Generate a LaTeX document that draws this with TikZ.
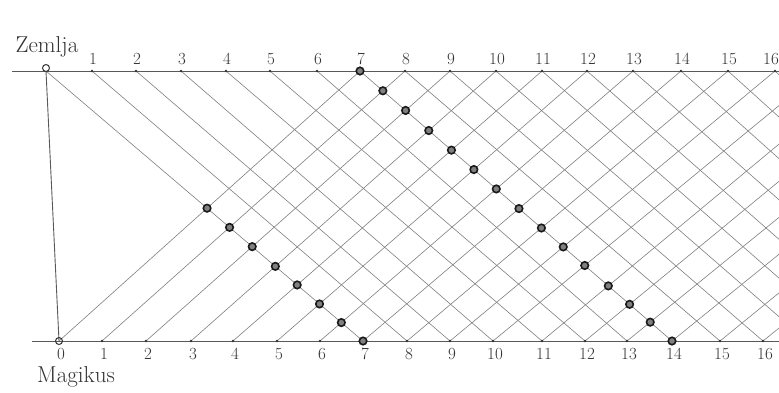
\documentclass[tikz,border=0pt]{standalone}
\begin{document}
\begin{tikzpicture}[x=1pt,y=-1pt,
  grid/.style={draw=black!50, line width=0.6pt},
  axis/.style={draw=black!65, line width=0.9pt},
  lab/.style={text=black!80, font=\fontsize{17}{17}\selectfont, inner sep=0pt},
  title/.style={text=black!80, font=\fontsize{23}{23}\selectfont, inner sep=0pt},
  tick/.style={circle, fill=black!80, inner sep=0pt, minimum size=2.6pt},
  dotm/.style={circle, draw=black!90, line width=1.6pt, fill=black!50, inner sep=0pt, minimum size=7.5pt},
  ring/.style={circle, draw=black!80, line width=1pt, inner sep=0pt, minimum size=7pt}]
\useasboundingbox (0,0) rectangle (779,392);
\fill[white] (0,0) rectangle (779,392);
% tick coordinates
\foreach \i/\x in {0/46,1/92,2/136,3/181,4/226,5/270,6/317,7/360,8/405,9/450,10/496,11/542,12/587,13/633,14/681,15/728,16/775,17/821,18/867,19/913,20/959,21/1005,22/1051,23/1097}
  \coordinate (T\i) at (\x,71);
\foreach \i/\x in {0/59,1/102,2/146,3/191,4/233,5/277,6/320,7/363,8/407,9/450,10/493,11/542,12/585,13/627,14/672,15/720,16/763,17/807,18/851,19/895,20/939,21/983,22/1027,23/1071}
  \coordinate (B\i) at (\x,341);
\coordinate (TL) at (12,71);
\coordinate (TR) at (779,71);
\coordinate (BL) at (32,341);
\coordinate (BR) at (779,341);
% grid of diagonals
\begin{scope}
  \clip (0,0) rectangle (779,392);
  \foreach \i in {0,...,16} {
    \pgfmathtruncatemacro{\k}{\i+7}
    \draw[grid] (T\i) -- (B\k);
    \draw[grid] (B\i) -- (T\k);
  }
\end{scope}
% axes
\draw[axis] (TL) -- (TR);
\draw[axis] (BL) -- (BR);
\draw[axis] (T0) -- (B0);
% ticks and labels
\foreach \i in {1,...,16} {
  \node[tick] (tt\i) at (T\i) {};
  \node[tick] (bt\i) at (B\i) {};
}
\foreach \i in {1,...,15} {
  \node[lab, anchor=south, yshift=6pt, xshift=1pt] (tl\i) at (T\i) {\i};
}
\node[lab, anchor=south east, yshift=6pt] (tl16) at (TR) {16};
\foreach \i in {0,...,16} {
  \node[lab, anchor=north, yshift=-7pt, xshift=2pt] (bl\i) at (B\i) {\i};
}
\node[ring, yshift=3pt] (t0) at (T0) {};
\node[ring] (b0) at (B0) {};
% dots
\foreach \j in {0,...,7} {
  \pgfmathtruncatemacro{\k}{\j+7}
  \node[dotm] (da\j) at (intersection of T0--B7 and B\j--T\k) {};
}
\foreach \j in {0,...,14} {
  \pgfmathtruncatemacro{\k}{\j+7}
  \node[dotm] (db\j) at (intersection of T7--B14 and B\j--T\k) {};
}
% titles
\node[title] (zem) at (47,47) {Zemlja};
\node[title] (mag) at (76,377) {Magikus};
\end{tikzpicture}
\end{document}
